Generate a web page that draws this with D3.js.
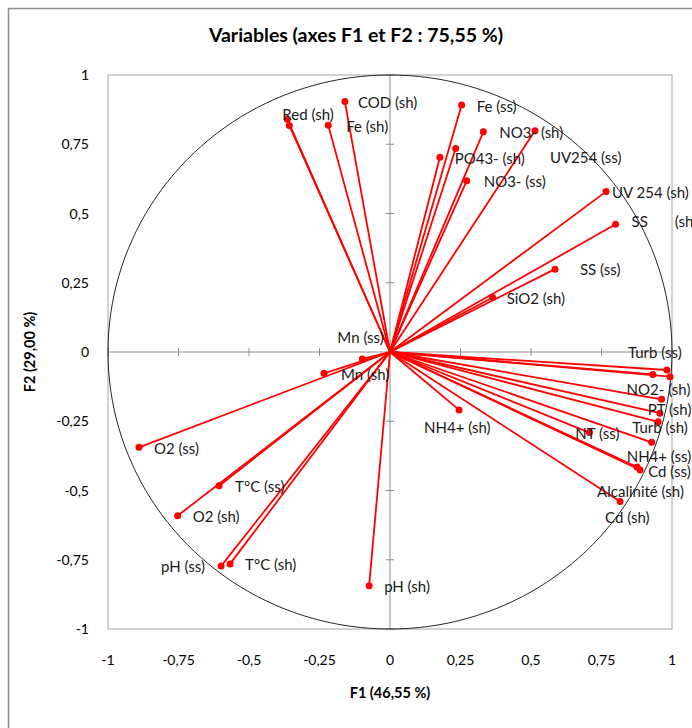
<!DOCTYPE html>
<html>
<head>
<meta charset="utf-8">
<script src="https://cdn.jsdelivr.net/npm/d3@7/dist/d3.min.js"></script>
<style>
  body { margin: 0; background: #fff; }
  text { font-family: Lato, "Open Sans", sans-serif; }
</style>
</head>
<body>
<svg id="cercle" width="692" height="728"></svg>
<script>
// variables of the correlation circle (empty name = point without label)
var names = ['Red (sh)', '', 'Fe (sh)', 'COD (sh)', 'Fe (ss)', 'NO3- (sh)', 'UV254 (ss)', 'PO43- (sh)', '',
  'NO3- (ss)', 'UV 254 (sh)', 'SS       (sh)', 'SS (ss)', 'SiO2 (sh)', 'Turb (ss)', '', '',
  'NO2- (sh)', 'PT (sh)', 'Turb (sh)', 'NH4+ (ss)', 'Cd (ss)', 'Cd (sh)', 'Alcalinité (sh)', 'NT (ss)',
  'Mn (ss)', 'Mn (sh)', 'NH4+ (sh)', 'O2 (ss)', 'T°C (ss)', 'O2 (sh)', 'pH (ss)', 'T°C (sh)', 'pH (sh)']
var f1 = [-0.364, -0.357, -0.219, -0.160, 0.254, 0.331, 0.514, 0.233, 0.177,
  0.272, 0.766, 0.800, 0.585, 0.364, 0.982, 0.932, 0.993,
  0.963, 0.957, 0.951, 0.928, 0.887, 0.876, 0.816, 0.707,
  -0.098, -0.234, 0.245, -0.890, -0.606, -0.753, -0.599, -0.567, -0.074]
var f2 = [0.840, 0.818, 0.819, 0.904, 0.892, 0.795, 0.799, 0.735, 0.703,
  0.618, 0.579, 0.461, 0.299, 0.197, -0.065, -0.081, -0.089,
  -0.171, -0.221, -0.252, -0.326, -0.426, -0.415, -0.540, -0.291,
  -0.025, -0.077, -0.209, -0.344, -0.483, -0.591, -0.773, -0.765, -0.844]
var ticks = [-1, -0.75, -0.5, -0.25, 0, 0.25, 0.5, 0.75, 1]

// label offsets (px) from each point, placed by hand like in the original
var labelDx = [-5, 0, 18, 13, 15, 16, 15, -1, 0,
  17, 6, 16, 25, 14, -39, 0, 0,
  -35, -12, -26, -25, 8, -32, -23, -14,
  -25, 17, -35, 15, 16, 15, -60, 15, 15]
var labelDy = [0.5, 0, 7, 6.5, 7, 6.5, 32.5, 15.5, 0,
  6.5, 6.5, 2.5, 5.5, 6.5, -12, 0, 0,
  -4.5, 1.5, 11.5, 19.5, 7, 56.5, -4.5, 6.5,
  -16, 6.5, 23, 6.5, 6.5, 6.5, 6, 6, 6.5]

var svg = d3.select('#cercle')
var fmt = function (d) { return String(d).replace('.', ',') }

var x = d3.scaleLinear().domain([-1, 1]).range([108, 672])
var y = d3.scaleLinear().domain([-1, 1]).range([629, 75])

/** chart frame */
svg.append('rect').attr('x', 8.5).attr('y', 8.5).attr('width', 720).attr('height', 740)
  .style('fill', 'none').style('stroke', '#8c8c8c').style('stroke-width', '1.5')

/** plot box */
svg.append('rect').attr('x', x(-1)).attr('y', y(1)).attr('width', x(1) - x(-1)).attr('height', y(-1) - y(1))
  .style('fill', 'none').style('stroke', '#a6a6a6').style('stroke-width', '1')

/** axes through the origin with small cross ticks */
svg.append('line').attr('x1', x(0)).attr('x2', x(0)).attr('y1', y(1)).attr('y2', y(-1)).style('stroke', '#8c8c8c')
svg.append('line').attr('x1', x(-1)).attr('x2', x(1)).attr('y1', y(0)).attr('y2', y(0)).style('stroke', '#8c8c8c')
ticks.forEach(function (t) {
  svg.append('line').attr('x1', x(t)).attr('x2', x(t)).attr('y1', y(0) - 4).attr('y2', y(0) + 4).style('stroke', '#8c8c8c')
  svg.append('line').attr('x1', x(0) - 4).attr('x2', x(0) + 4).attr('y1', y(t)).attr('y2', y(t)).style('stroke', '#8c8c8c')
})

/** tick labels */
svg.selectAll('.xt').data(ticks).enter().append('text').attr('class', 'xt')
  .attr('x', function (d) { return x(d) }).attr('y', 665)
  .attr('text-anchor', 'middle').style('font-size', '14px').text(fmt)
svg.selectAll('.yt').data(ticks).enter().append('text').attr('class', 'yt')
  .attr('x', 89).attr('y', function (d) { return y(d) + 5 })
  .attr('text-anchor', 'end').style('font-size', '14px').text(fmt)

/** unit circle */
var angles = d3.range(0, 361, 2)
svg.append('path')
  .attr('d', d3.line().x(function (a) { return x(Math.cos(a * Math.PI / 180)) }).y(function (a) { return y(Math.sin(a * Math.PI / 180)) })(angles))
  .style('fill', 'none').style('stroke', '#262626').style('stroke-width', '1')

/** vectors */
svg.selectAll('.vec').data(f1).enter().append('line').attr('class', 'vec')
  .attr('x1', x(0)).attr('y1', y(0))
  .attr('x2', function (d) { return x(d) }).attr('y2', function (d, i) { return y(f2[i]) })
  .style('stroke', '#ff0000').style('stroke-width', '1.8')
svg.selectAll('.pt').data(f1).enter().append('circle').attr('class', 'pt')
  .attr('cx', function (d) { return x(d) }).attr('cy', function (d, i) { return y(f2[i]) })
  .attr('r', 3.5).style('fill', '#ff0000')

/** labels */
svg.selectAll('.lab').data(names).enter().append('text').attr('class', 'lab')
  .attr('x', function (d, i) { return x(f1[i]) + labelDx[i] })
  .attr('y', function (d, i) { return y(f2[i]) + labelDy[i] })
  .attr('xml:space', 'preserve').style('white-space', 'pre')
  .style('font-size', '15px').style('fill', '#1a1a1a').text(function (d) { return d })

/** titles */
svg.append('text').attr('x', 356).attr('y', 42).attr('text-anchor', 'middle')
  .style('font-size', '19.5px').style('font-weight', 'bold').text('Variables (axes F1 et F2 : 75,55 %)')
svg.append('text').attr('x', 390).attr('y', 698).attr('text-anchor', 'middle')
  .style('font-size', '14.5px').style('font-weight', 'bold').text('F1 (46,55 %)')
svg.append('text').attr('transform', 'translate(35,' + y(0) + ') rotate(-90)').attr('text-anchor', 'middle')
  .style('font-size', '14.5px').style('font-weight', 'bold').text('F2 (29,00 %)')
</script>
</body>
</html>
